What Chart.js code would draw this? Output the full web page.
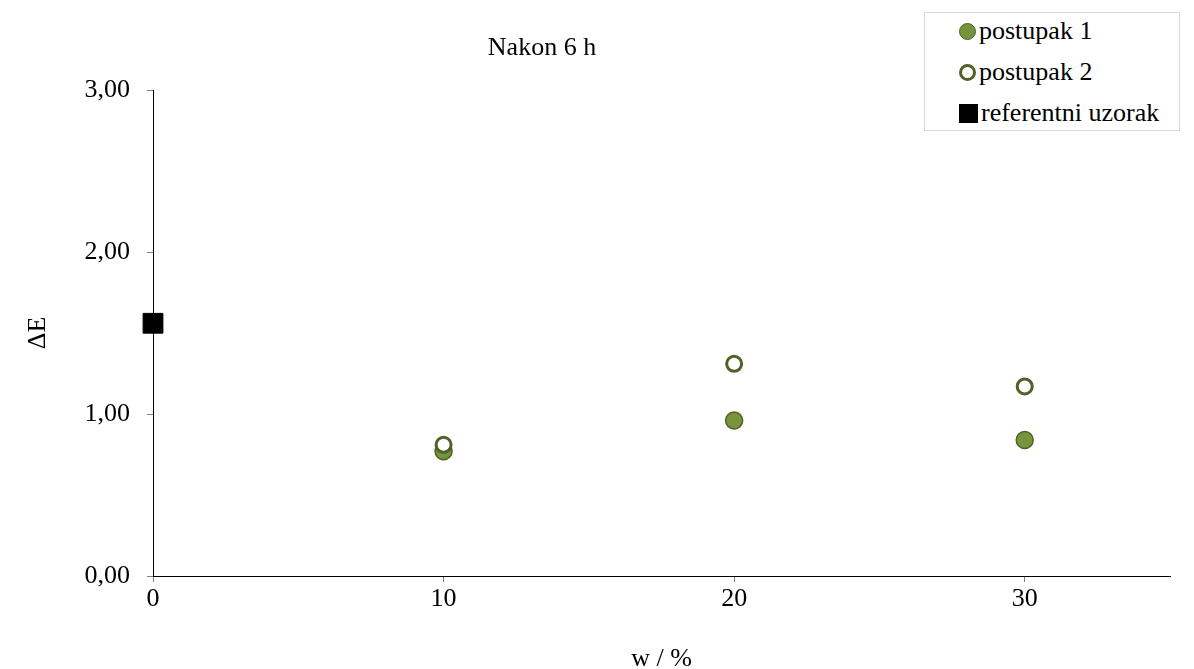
<!DOCTYPE html>
<html>
<head>
    <title>Nakon 6 h</title>
    <style>
        body { margin: 0; background: #fff; }
        #wrap { position: relative; width: 1194px; height: 669px; }
        #title {
            position: absolute; left: 442px; top: 31px; width: 200px; text-align: center;
            font-family: "Liberation Serif", "Times New Roman", serif; font-size: 26px; line-height: 32px; color: #000;
        }
        #legend {
            position: absolute; left: 924px; top: 12px; width: 254px; height: 117px;
            border: 1px solid #d9d9d9; background: #fff;
            font-family: "Liberation Serif", "Times New Roman", serif; font-size: 26px; color: #000;
        }
        #legend .row { position: absolute; left: 34px; height: 30px; line-height: 30px; white-space: nowrap; }
        #legend .mk { display: inline-block; vertical-align: middle; box-sizing: border-box; margin-right: 3px; position: relative; top: -2px; }
    </style>
</head>
<body>
<div id="wrap">
    <canvas id="chart" width="1194" height="669"></canvas>
    <div id="title">Nakon 6 h</div>
    <div id="legend"></div>
</div>

<script src="https://cdn.jsdelivr.net/npm/chart.js@4/dist/chart.umd.min.js"></script>
<script>
    // values
    const postupak1X = [10, 20, 30];
    const postupak1Y = [0.77, 0.96, 0.84];
    const postupak2X = [10, 20, 30];
    const postupak2Y = [0.81, 1.31, 1.17];
    const referentX = [0];
    const referentY = [1.56];

    const xTicks = [0, 10, 20, 30];
    const yTicks = [0, 1, 2, 3];

    const FONT = "'Liberation Serif', 'Times New Roman', serif";

    function pts(xs, ys) {
        return xs.map((x, i) => ({ x: x, y: ys[i] }));
    }

    const ctx = document.getElementById("chart").getContext("2d");

    const chart = new Chart(ctx, {
        type: "scatter",
        data: {
            datasets: [
                {
                    label: "postupak 1",
                    data: pts(postupak1X, postupak1Y),
                    pointStyle: "circle",
                    pointRadius: 8.5,
                    backgroundColor: "#77933c",
                    borderColor: "#4f6228",
                    borderWidth: 1.5,
                    clip: false,
                    order: 2
                },
                {
                    label: "postupak 2",
                    data: pts(postupak2X, postupak2Y),
                    pointStyle: "circle",
                    pointRadius: 7.5,
                    backgroundColor: "#ffffff",
                    borderColor: "#4f6228",
                    borderWidth: 3,
                    clip: false,
                    order: 1
                },
                {
                    label: "referentni uzorak",
                    data: pts(referentX, referentY),
                    pointStyle: "rect",
                    pointRadius: 14,
                    backgroundColor: "#000000",
                    borderColor: "#000000",
                    borderWidth: 1,
                    clip: false,
                    order: 0
                }
            ]
        },
        options: {
            responsive: false,
            animation: false,
            layout: { padding: { left: 0, right: 24, top: 90, bottom: 0 } },
            plugins: {
                legend: { display: false },
                tooltip: { enabled: false },
                title: { display: false }
            },
            scales: {
                x: {
                    type: "linear",
                    min: 0,
                    max: 35,
                    afterBuildTicks: (axis) => { axis.ticks = xTicks.map(v => ({ value: v })); },
                    afterFit: (axis) => { axis.height = 93; },
                    grid: { display: true, drawOnChartArea: false, drawTicks: true, tickLength: 6, color: "#808080" },
                    border: { color: "#000", width: 1 },
                    ticks: {
                        color: "#000",
                        font: { family: FONT, size: 26 },
                        padding: 2,
                        maxRotation: 0,
                        callback: (v) => String(v)
                    },
                    title: {
                        display: true,
                        text: "w / %",
                        color: "#000",
                        font: { family: FONT, size: 26 },
                        padding: { top: 14, bottom: -6 }
                    }
                },
                y: {
                    min: 0,
                    max: 3,
                    afterBuildTicks: (axis) => { axis.ticks = yTicks.map(v => ({ value: v })); },
                    afterFit: (axis) => { axis.width = 153; },
                    grid: { display: true, drawOnChartArea: false, drawTicks: true, tickLength: 6, color: "#808080" },
                    border: { color: "#000", width: 1 },
                    ticks: {
                        color: "#000",
                        font: { family: FONT, size: 26 },
                        padding: 17,
                        callback: (v) => v.toFixed(2).replace(".", ",")
                    },
                    title: {
                        display: true,
                        text: "ΔE",
                        color: "#000",
                        font: { family: FONT, size: 26 },
                        padding: { top: 23, bottom: 0 }
                    }
                }
            }
        }
    });

    // HTML legend built from the datasets
    const legend = document.getElementById("legend");
    const rowTops = [3, 44, 85];
    chart.data.datasets.forEach((ds, i) => {
        const row = document.createElement("div");
        row.className = "row";
        row.style.top = rowTops[i] + "px";
        const mk = document.createElement("span");
        mk.className = "mk";
        if (ds.pointStyle === "rect") {
            mk.style.width = "19px";
            mk.style.height = "19px";
            mk.style.background = ds.backgroundColor;
        } else {
            mk.style.width = "17px";
            mk.style.height = "17px";
            mk.style.borderRadius = "50%";
            mk.style.background = ds.backgroundColor;
            mk.style.border = ds.borderWidth + "px solid " + ds.borderColor;
        }
        row.appendChild(mk);
        row.appendChild(document.createTextNode(ds.label));
        legend.appendChild(row);
    });
</script>
</body>
</html>
